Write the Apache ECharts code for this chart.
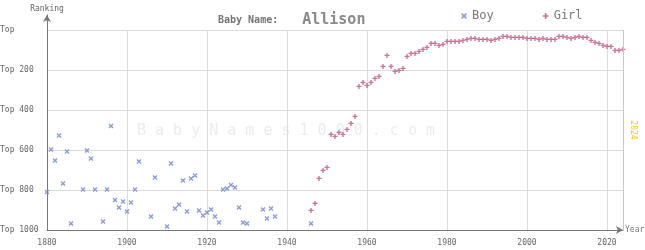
<!DOCTYPE html>
<html>
<head>
<meta charset="utf-8">
<script src="https://cdn.jsdelivr.net/npm/echarts@6/dist/echarts.min.js"></script>
<style>html,body{margin:0;padding:0;background:#fff}#c{width:645px;height:250px}</style>
</head>
<body>
<div id="c"></div>
<script>
var boyYears = [1880,1881,1882,1883,1884,1885,1886,1889,1890,1891,1892,1894,1895,1896,1897,1898,1899,1900,1901,1902,1903,1906,1907,1910,1911,1912,1913,1914,1915,1916,1917,1918,1919,1920,1921,1922,1923,1924,1925,1926,1927,1928,1929,1930,1934,1935,1936,1937,1946];
var boyRanks = [810,597,652,527,767,607,967,797,602,642,797,957,797,480,850,887,857,907,862,797,657,932,737,982,667,892,872,752,907,742,727,902,927,912,897,932,962,797,792,775,787,887,962,967,897,942,892,932,967];
var girlYears = [1946,1947,1948,1949,1950,1951,1952,1953,1954,1955,1956,1957,1958,1959,1960,1961,1962,1963,1964,1965,1966,1967,1968,1969,1970,1971,1972,1973,1974,1975,1976,1977,1978,1979,1980,1981,1982,1983,1984,1985,1986,1987,1988,1989,1990,1991,1992,1993,1994,1995,1996,1997,1998,1999,2000,2001,2002,2003,2004,2005,2006,2007,2008,2009,2010,2011,2012,2013,2014,2015,2016,2017,2018,2019,2020,2021,2022,2023,2024];
var girlRanks = [902,867,742,702,687,522,532,512,522,497,467,432,282,262,277,262,242,232,182,127,182,207,202,192,132,117,117,107,97,87,67,67,77,72,57,57,57,57,52,47,42,42,47,47,47,52,47,42,32,32,37,37,37,37,42,42,42,47,42,47,47,47,32,32,37,42,37,32,37,37,52,62,67,77,82,82,102,102,97];
var rankTicks = [0,200,400,600,800,1000];
var yearTicks = [1880,1900,1920,1940,1960,1980,2000,2020];
var currentYear = 2024;
var babyName = 'Allison';

var FONT = 'DejaVu Sans Mono';
var BOY_ICON = 'path://M0,1L1,0L2.5,1.5L4,0L5,1L3.5,2.5L5,4L4,5L2.5,3.5L1,5L0,4L1.5,2.5Z';
var GIRL_ICON = 'path://M1.8,0H3.2V1.8H5V3.2H3.2V5H1.8V3.2H0V1.8H1.8Z';

function pairs(xs, ys) { return xs.map(function (x, i) { return [x, ys[i]]; }); }

var chart = echarts.init(document.getElementById('c'), null, {renderer: 'canvas'});
chart.setOption({
  animation: false,
  backgroundColor: '#fff',
  textStyle: {fontFamily: FONT},
  title: {
    left: 213, top: 8,
    text: '{a|Baby Name:}{b|' + babyName + '}',
    textStyle: {
      rich: {
        a: {fontFamily: FONT, fontSize: 10, fontWeight: 'bold', color: '#747474'},
        b: {fontFamily: FONT, fontSize: 15, color: '#8a8a8a', padding: [0, 0, 0, 24]}
      }
    }
  },
  legend: {
    left: 461, top: 10, padding: 0,
    itemWidth: 6, itemHeight: 6, itemGap: 49,
    textStyle: {fontFamily: FONT, fontSize: 12, color: '#777'},
    data: [
      {name: 'Boy', icon: BOY_ICON, itemStyle: {color: '#7384c9'}},
      {name: 'Girl', icon: GIRL_ICON, itemStyle: {color: '#c2507d'}}
    ]
  },
  graphic: [{
    type: 'text', left: 137, top: 124, z: -10, silent: true,
    style: {text: 'B a b y N a m e s 1 0 0 0 . c o m', font: '15px "DejaVu Sans Mono"', fill: '#ececec'}
  }],
  grid: [
    {left: 47, right: 22, top: 30, bottom: 20, containLabel: false, outerBoundsMode: 'none'},
    {left: 47, right: 22, top: 15, height: 15, containLabel: false, outerBoundsMode: 'none'}
  ],
  xAxis: [{
    type: 'value', min: 1880, max: currentYear, interval: 20, position: 'bottom',
    name: 'Year', nameLocation: 'end', nameGap: 2,
    nameTextStyle: {fontFamily: FONT, fontSize: 8, color: '#777', align: 'left', verticalAlign: 'middle'},
    axisLine: {show: true, onZero: false, symbol: ['none', 'arrow'], symbolSize: [6, 7], lineStyle: {color: '#777', width: 1}},
    axisTick: {show: false},
    axisLabel: {showMaxLabel: false, margin: 9, fontFamily: FONT, fontSize: 8, color: '#666',
      formatter: function (v) { return yearTicks.indexOf(v) >= 0 ? String(v) : ''; }},
    splitLine: {show: true, lineStyle: {color: '#dcdcdc', width: 1}}
  }, {
    gridIndex: 1, type: 'value', min: 1880, max: currentYear, show: false
  }],
  yAxis: [{
    type: 'value', inverse: true, min: 0, max: 1000, interval: 200,
    axisLine: {show: true, onZero: false, lineStyle: {color: '#777', width: 1}},
    axisTick: {show: false},
    axisLabel: {align: 'left', margin: 47, fontFamily: FONT, fontSize: 8, color: '#666',
      formatter: function (v) { return rankTicks.indexOf(v) < 0 ? '' : (v === 0 ? 'Top' : 'Top ' + v); }},
    splitLine: {show: true, lineStyle: {color: '#dcdcdc', width: 1}}
  }, {
    gridIndex: 1, type: 'value', min: 0, max: 1,
    name: 'Ranking', nameLocation: 'end', nameGap: 2,
    nameTextStyle: {fontFamily: FONT, fontSize: 8, color: '#666', align: 'center'},
    axisLine: {show: true, onZero: false, symbol: ['none', 'arrow'], symbolSize: [6, 7], lineStyle: {color: '#777', width: 1}},
    axisTick: {show: false}, axisLabel: {show: false}, splitLine: {show: false}
  }],
  series: [
    {
      name: 'Boy', type: 'scatter', symbol: BOY_ICON, symbolSize: 5,
      itemStyle: {color: '#7384c9'},
      data: pairs(boyYears, boyRanks)
    },
    {
      name: 'Girl', type: 'scatter', symbol: GIRL_ICON, symbolSize: 5,
      itemStyle: {color: '#c2507d'},
      data: pairs(girlYears, girlRanks),
      markLine: {
        silent: true, symbol: ['none', 'none'],
        lineStyle: {color: '#f5d22a', width: 1, type: 'solid'},
        label: {show: true, position: 'insideMiddleTop', formatter: String(currentYear), distance: 6,
          fontFamily: FONT, fontSize: 8, color: '#f0c419'},
        data: [{xAxis: currentYear}]
      }
    }
  ]
});
</script>
</body>
</html>
